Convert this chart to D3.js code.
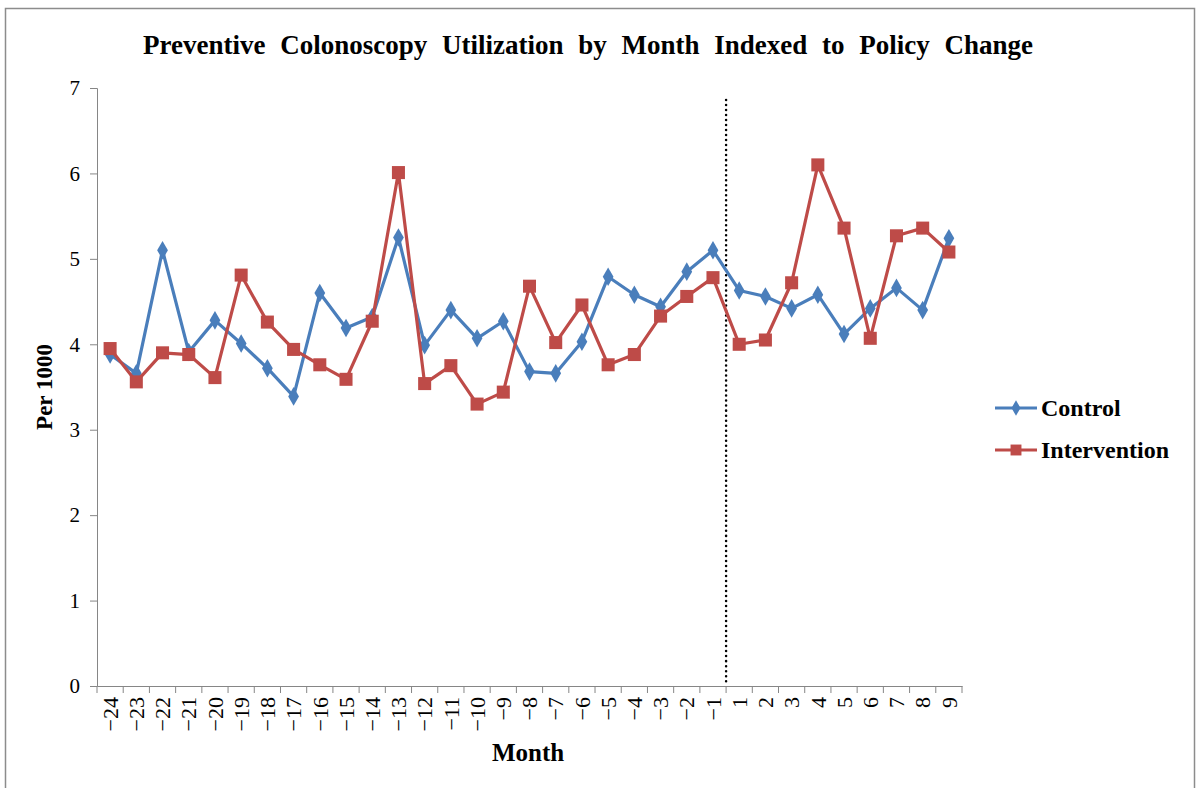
<!DOCTYPE html>
<html>
<head>
<meta charset="utf-8">
<script src="https://cdn.jsdelivr.net/npm/d3@7"></script>
<style>
  body { margin: 0; background: #fff; }
  svg text { font-family: "Liberation Serif", "Times New Roman", serif; }
</style>
</head>
<body>
<svg id="chart"></svg>
<script>
// months indexed to policy change
const months = [-24, -23, -22, -21, -20, -19, -18, -17, -16, -15, -14, -13, -12, -11, -10, -9, -8, -7, -6, -5, -4, -3, -2, -1, 1, 2, 3, 4, 5, 6, 7, 8, 9];
const control = [3.88, 3.66, 5.10, 3.91, 4.28, 4.01, 3.72, 3.39, 4.60, 4.19, 4.32, 5.25, 3.99, 4.40, 4.07, 4.27, 3.68, 3.66, 4.03, 4.79, 4.58, 4.44, 4.85, 5.10, 4.63, 4.56, 4.42, 4.58, 4.12, 4.42, 4.66, 4.40, 5.24];
const intervention = [3.95, 3.56, 3.90, 3.88, 3.61, 4.81, 4.26, 3.94, 3.76, 3.59, 4.27, 6.01, 3.54, 3.75, 3.30, 3.44, 4.68, 4.02, 4.46, 3.76, 3.88, 4.33, 4.56, 4.78, 4.00, 4.05, 4.72, 6.10, 5.36, 4.07, 5.27, 5.36, 5.08];
const yTicks = [0, 1, 2, 3, 4, 5, 6, 7];
const policyAfter = -1; // policy change between -1 and 1

const width = 1200, height = 788;
const margin = { left: 97, right: 238, top: 88, bottom: 102 };

const svg = d3.select("#chart")
  .attr("width", width)
  .attr("height", height);

// outer frame
svg.append("rect")
  .attr("x", 5.5).attr("y", 8.5)
  .attr("width", 1189).attr("height", 790)
  .attr("fill", "none")
  .attr("stroke", "#8c8c8c")
  .attr("stroke-width", 1.5);

const x = d3.scaleBand()
  .domain(months)
  .range([margin.left, width - margin.right]);

const y = d3.scaleLinear()
  .domain([0, 7])
  .range([height - margin.bottom, margin.top]);

// title
svg.append("text")
  .attr("x", 588).attr("y", 54)
  .attr("text-anchor", "middle")
  .style("font-size", "27px")
  .style("font-weight", "bold")
  .style("word-spacing", "8px")
  .text("Preventive Colonoscopy Utilization by Month Indexed to Policy Change");

// y axis
const yAxis = svg.append("g")
  .attr("transform", `translate(${margin.left},0)`)
  .call(d3.axisLeft(y).tickValues(yTicks).tickFormat(d3.format("d")).tickSize(7).tickPadding(10));
yAxis.selectAll("path, line").attr("stroke", "#868686");
yAxis.selectAll("text")
  .style("font-size", "21px")
  .style("font-family", "'Liberation Serif', serif")
  .attr("fill", "#000");

// x axis: ticks between categories
const xAxis = svg.append("g")
  .attr("transform", `translate(0,${y(0)})`)
  .call(d3.axisBottom(x).tickSize(0).tickSizeOuter(0));
xAxis.select(".domain").attr("stroke", "#868686");
xAxis.selectAll("text")
  .style("font-size", "22px")
  .style("font-family", "'Liberation Serif', serif")
  .attr("fill", "#000")
  .attr("text-anchor", "end")
  .attr("transform", "rotate(-90)")
  .attr("x", -11)
  .attr("y", 0)
  .attr("dy", "0.35em")
  .text(d => d < 0 ? "\u2212" + Math.abs(d) : d);

const bounds = months.map(m => x(m)).concat([x(months[months.length - 1]) + x.bandwidth()]);
svg.append("g")
  .selectAll("line")
  .data(bounds)
  .join("line")
  .attr("x1", d => d).attr("x2", d => d)
  .attr("y1", y(0)).attr("y2", y(0) + 7)
  .attr("stroke", "#868686");

// axis titles
svg.append("text")
  .attr("transform", `translate(52,${(y(0) + y(7)) / 2}) rotate(-90)`)
  .attr("text-anchor", "middle")
  .style("font-size", "23px")
  .style("font-weight", "bold")
  .text("Per 1000");

svg.append("text")
  .attr("x", 528).attr("y", 761)
  .attr("text-anchor", "middle")
  .style("font-size", "25px")
  .style("font-weight", "bold")
  .text("Month");

// policy change marker
const policyX = x(policyAfter) + x.bandwidth();
svg.append("line")
  .attr("x1", policyX).attr("x2", policyX)
  .attr("y1", 100).attr("y2", y(0))
  .attr("stroke", "#000")
  .attr("stroke-width", 2.5)
  .attr("stroke-dasharray", "0.01 5")
  .attr("stroke-linecap", "round");

const series = [
  { name: "Control", values: control, color: "#4a7ebb", shape: d3.symbolDiamond, size: 100 },
  { name: "Intervention", values: intervention, color: "#be4b48", shape: d3.symbolSquare, size: 170 }
];

const line = d3.line()
  .x((d, i) => x(months[i]) + x.bandwidth() / 2)
  .y(d => y(d));

series.forEach(s => {
  svg.append("path")
    .datum(s.values)
    .attr("fill", "none")
    .attr("stroke", s.color)
    .attr("stroke-width", 3.2)
    .attr("stroke-linejoin", "round")
    .attr("d", line);

  svg.append("g")
    .selectAll("path")
    .data(s.values)
    .join("path")
    .attr("transform", (d, i) => `translate(${x(months[i]) + x.bandwidth() / 2},${y(d)})`)
    .attr("d", d3.symbol().type(s.shape).size(s.size))
    .attr("fill", s.color);
});

// legend
const legend = svg.append("g").attr("transform", "translate(995,408)");
series.forEach((s, i) => {
  const g = legend.append("g").attr("transform", `translate(0,${i * 42})`);
  g.append("line")
    .attr("x1", 0).attr("x2", 42)
    .attr("stroke", s.color)
    .attr("stroke-width", 3);
  g.append("path")
    .attr("transform", "translate(21,0)")
    .attr("d", d3.symbol().type(s.shape).size(s.size * 0.7))
    .attr("fill", s.color);
  g.append("text")
    .attr("x", 46).attr("dy", "0.35em")
    .style("font-size", "24px")
    .style("font-weight", "bold")
    .text(s.name);
});
</script>
</body>
</html>
